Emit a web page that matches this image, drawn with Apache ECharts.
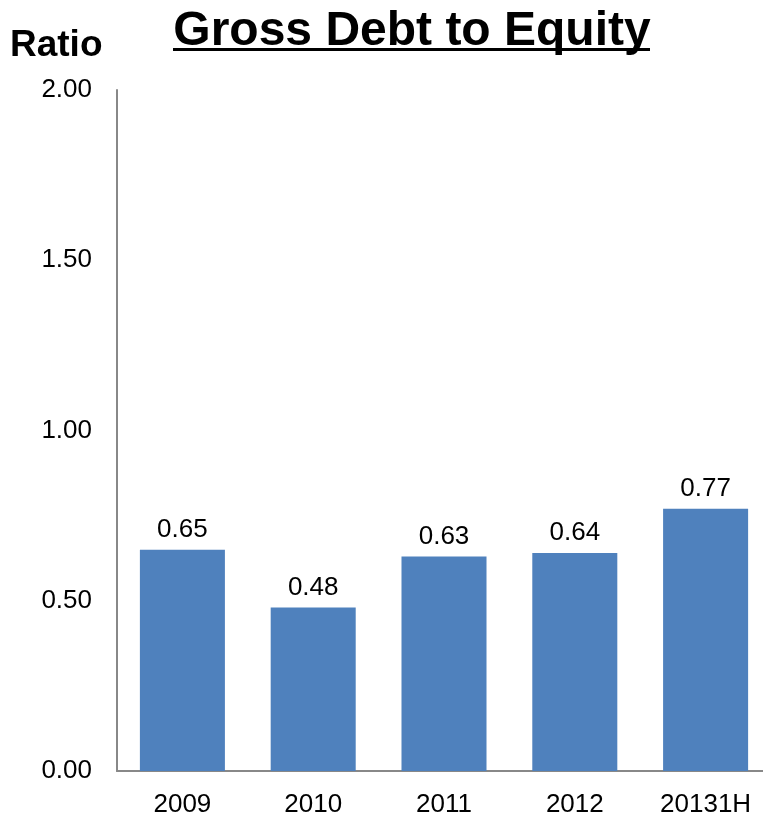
<!DOCTYPE html>
<html><head><meta charset="utf-8">
<script src="https://cdn.jsdelivr.net/npm/echarts@6/dist/echarts.min.js"></script>
<style>html,body{margin:0;padding:0;background:#fff;overflow:hidden}#c{width:775px;height:819px}</style>
</head><body><div id="c"></div>
<script>
const categories = ['2009', '2010', '2011', '2012', '20131H'];
const values = [0.65, 0.48, 0.63, 0.64, 0.77];
const yTicks = [0, 0.5, 1.0, 1.5, 2.0];

const chart = echarts.init(document.getElementById('c'));
const font = '"Liberation Sans", Arial, sans-serif';
chart.setOption({
  animation: false,
  title: {
    text: 'Gross Debt to Equity',
    left: 407, top: 3, textAlign: 'center',
    textStyle: { fontFamily: font, fontSize: 48, fontWeight: 'bold', color: '#000' }
  },
  graphic: [
    { type: 'rect', shape: { x: 173, y: 48, width: 477, height: 3 }, style: { fill: '#000' } },
    { type: 'text', left: 10, top: 27, style: { text: 'Ratio', fontFamily: font, fontSize: 37, fontWeight: 'bold', fill: '#000' } }
  ],
  grid: { left: 117, top: 90, width: 654, bottom: 48 },
  xAxis: {
    type: 'category', data: categories,
    axisLine: { lineStyle: { color: '#888', width: 2 } },
    axisTick: { show: false },
    axisLabel: { color: '#000', fontFamily: font, fontSize: 26, margin: 21 }
  },
  yAxis: {
    type: 'value', min: yTicks[0], max: yTicks[yTicks.length - 1], interval: 0.5,
    axisLine: { show: true, lineStyle: { color: '#888', width: 2 } },
    axisTick: { show: false },
    splitLine: { show: false },
    axisLabel: { color: '#000', fontFamily: font, fontSize: 26, margin: 25, formatter: v => v.toFixed(2) }
  },
  series: [{
    type: 'bar', data: values, barCategoryGap: '35%',
    itemStyle: { color: '#4F81BD' },
    label: { show: true, position: 'top', distance: 7, color: '#000', fontFamily: font, fontSize: 26, formatter: p => p.value.toFixed(2) }
  }]
});
</script></body></html>
